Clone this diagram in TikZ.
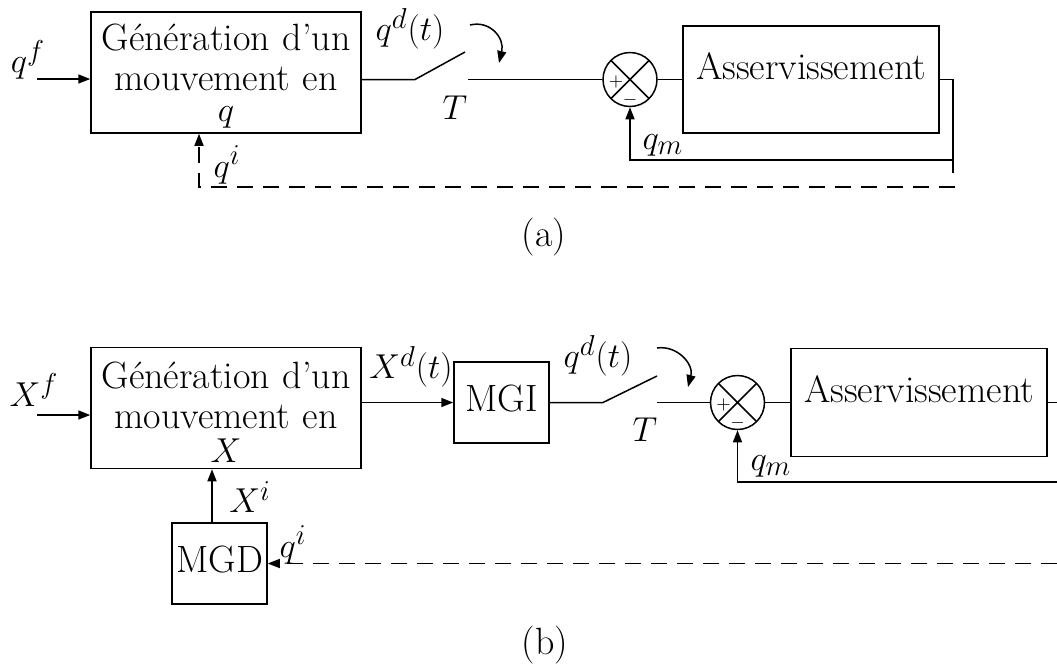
\documentclass[tikz,border=0pt]{standalone}
\usepackage{tikz}
\usetikzlibrary{arrows.meta, positioning}

\begin{document}
\begin{tikzpicture}[x=0.5pt, y=-0.5pt, line width=0.75pt,
  box/.style={rectangle, draw, inner sep=0pt, font=\fontsize{19}{23}\selectfont},
  genbox/.style={rectangle, draw, inner sep=0pt,
    minimum width=135pt, minimum height=60.5pt,
    text width=128pt, align=center,
    font=\fontsize{19}{20}\selectfont},
  sumnode/.style={circle, draw, inner sep=0pt, minimum size=27pt,
    path picture={\draw (path picture bounding box.north west) -- (path picture bounding box.south east)
      (path picture bounding box.north east) -- (path picture bounding box.south west);}},
  lbl/.style={inner sep=0pt, font=\fontsize{19}{23}\selectfont},
  sgn/.style={inner sep=0pt, font=\fontsize{9}{10}\selectfont},
  arr/.style={-{Triangle[length=6pt, width=4.5pt]}},
  fb/.style={dash pattern=on 8pt off 5pt}
]
  \useasboundingbox (0,0) rectangle (1057,666);

  % (a) generation en q
  \node[genbox] (gen1) at (226,72.5) {\rule{0pt}{17pt}Génération d’un\\ mouvement en\\[-4.5pt] $q$};
  \node[box, minimum width=128pt, minimum height=53.5pt, text height=11pt, text depth=11pt] (as1) at (811,79.5) {Asservissement};
  \node[sumnode] (sum1) at (630,79.5) {};
  \node[sgn] (p1) at ([shift={(-14,2)}]sum1.center) {$+$};
  \node[sgn] (m1) at ([shift={(0,20)}]sum1.center) {$-$};

  \coordinate (qfin) at (37,79);
  \coordinate (sw1a) at (415,79.5);
  \coordinate (sw1b) at (465,52);
  \coordinate (sw1c) at (468,79.5);
  \coordinate (cv1a) at (470,25);
  \coordinate (cv1b) at (499,63);
  \coordinate (fbj1) at (953,160);
  \coordinate (fbe1) at (953,173);
  \coordinate (dr1) at (955,187);
  \coordinate (qi1c) at (199,187);

  \draw[arr] (qfin) -- (qfin -| gen1.west);
  \draw (gen1.east |- sw1a) -- (sw1a) -- (sw1b);
  \draw (sw1c) -- (sum1);
  \draw[arr] (cv1a) .. controls (490,20) and (505,38) .. (cv1b);
  \draw (sum1) -- (as1);
  \draw (as1.east) -| (fbe1);
  \draw[arr] (fbj1) -| (sum1.south);
  \draw[fb, arr] (dr1) -- (qi1c) -- (qi1c |- gen1.south);

  \node[lbl] (qf) at (28,60) {$q^f$};
  \node[lbl] (qd1) at (410,29) {$q^d(t)$};
  \node[lbl] (T1) at (455,108) {$T$};
  \node[lbl] (qi1) at (227,165) {$q^i$};
  \node[lbl] (qm1) at (663,145) {$q_m$};
  \node[lbl] (capa) at (544,237) {(a)};

  % (b) generation en X
  \node[genbox] (gen2) at (226,408) {\rule{0pt}{17pt}Génération d’un\\ mouvement en\\[-3pt] $X$};
  \node[box, minimum width=47.5pt, minimum height=40.5pt, text height=13pt, text depth=4.5pt] (mgi) at (501.5,402.5) {MGI};
  \node[box, minimum width=47.5pt, minimum height=40.5pt, text height=13pt, text depth=4.5pt] (mgd) at (219.5,563.5) {MGD};
  \node[sumnode] (sum2) at (737.5,402.5) {};
  \node[sgn] (p2) at ([shift={(-14,2)}]sum2.center) {$+$};
  \node[sgn] (m2) at ([shift={(0,20)}]sum2.center) {$-$};
  \node[box, minimum width=128pt, minimum height=54pt, text height=11pt, text depth=11pt] (as2) at (919,402.5) {Asservissement};

  \coordinate (Xfin) at (37,415);
  \coordinate (sw2a) at (603,402.5);
  \coordinate (sw2b) at (657,376);
  \coordinate (sw2c) at (657,402.5);
  \coordinate (cv2a) at (657,348);
  \coordinate (cv2b) at (688,387);
  \coordinate (out2) at (1057,402.5);
  \coordinate (fbj2) at (1057,482);
  \coordinate (dr2) at (1057,563.5);
  \coordinate (xib) at (212,0);

  \draw[arr] (Xfin) -- (Xfin -| gen2.west);
  \draw[arr] (gen2.east |- mgi) -- (mgi);
  \draw (mgi.east) -- (sw2a) -- (sw2b);
  \draw (sw2c) -- (sum2);
  \draw[arr] (cv2a) .. controls (677,345) and (694,364) .. (cv2b);
  \draw (sum2) -- (as2);
  \draw (as2.east) -- (out2);
  \draw[arr] (fbj2) -| (sum2.south);
  \draw[fb, arr] (dr2) -- (mgd);
  \draw[arr] (xib |- mgd.north) -- (xib |- gen2.south);

  \node[lbl] (Xf) at (34,390) {$X^f$};
  \node[lbl] (Xd) at (411,367) {$X^d(t)$};
  \node[lbl] (qd2) at (598,356) {$q^d(t)$};
  \node[lbl] (T2) at (645,430) {$T$};
  \node[lbl] (Xi) at (250,497) {$X^i$};
  \node[lbl] (qi2) at (293,545) {$q^i$};
  \node[lbl] (qm2) at (771,466) {$q_m$};
  \node[lbl] (capb) at (545,645) {(b)};
\end{tikzpicture}
\end{document}
